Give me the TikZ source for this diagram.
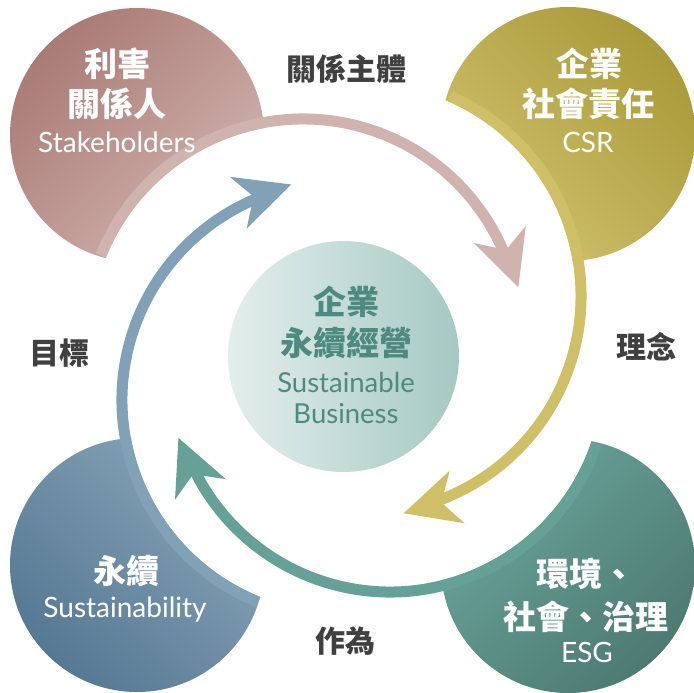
\documentclass[tikz,border=0pt]{standalone}
\usepackage{fontspec}
\setmainfont{Noto Sans CJK TC}
\newfontfamily\latinface{Lato}
\usepackage{tikz}
\definecolor{pinkdark}{HTML}{A97B75}
\definecolor{pinklight}{HTML}{D3B4B0}
\definecolor{pinkarc}{HTML}{D0B2AF}
\definecolor{golddark}{HTML}{AA9A3A}
\definecolor{goldlight}{HTML}{D1C36E}
\definecolor{goldarc}{HTML}{CFC068}
\definecolor{bluedark}{HTML}{557893}
\definecolor{bluelight}{HTML}{89A5B8}
\definecolor{bluearc}{HTML}{81A1B6}
\definecolor{greendark}{HTML}{4D7A72}
\definecolor{greenlight}{HTML}{6AA59B}
\definecolor{greenarc}{HTML}{66A197}
\definecolor{corelight}{HTML}{E4EEEC}
\definecolor{coredark}{HTML}{A5C9C3}
\definecolor{coretext}{HTML}{4E8A7F}
\definecolor{labeltext}{HTML}{404040}

\begin{document}
\begin{tikzpicture}[x=1pt,y=-1pt]
\tikzstyle{every node}+=[inner sep=0pt]
\tikzstyle{zhwhite}=[text=white,font=\fontsize{33}{36}\selectfont\bfseries]
\tikzstyle{enwhite}=[text=white,font=\latinface\fontsize{28}{34}\selectfont,anchor=base]
\tikzstyle{zhcore}=[text=coretext,font=\fontsize{33}{36}\selectfont\bfseries]
\tikzstyle{encore}=[text=coretext,font=\latinface\fontsize{27.5}{34}\selectfont,anchor=base]
\tikzstyle{relation}=[text=labeltext,font=\fontsize{30}{34}\selectfont\bfseries]
\tikzstyle{ringpen}=[line width=11pt]
\fill [white] (0,0) rectangle (694,693);
\useasboundingbox (0,0) rectangle (694,693);
\begin{scope}[even odd rule]
\clip (-10,-10) rectangle (704,703) (303,337) circle (212.5);
\shade [top color=pinkdark,bottom color=pinklight,shading angle=45] (137,135) circle (127);
\end{scope}
\begin{scope}[even odd rule]
\clip (-10,-10) rectangle (704,703) (363,296) circle (212.5);
\shade [top color=golddark,bottom color=goldlight,shading angle=-45] (568,134) circle (127);
\end{scope}
\begin{scope}[even odd rule]
\clip (-10,-10) rectangle (704,703) (390,374) circle (212.5);
\shade [top color=greenlight,bottom color=greendark,shading angle=45] (568,566) circle (127);
\end{scope}
\begin{scope}[even odd rule]
\clip (-10,-10) rectangle (704,703) (340,400) circle (212.5);
\shade [top color=bluelight,bottom color=bluedark,shading angle=-45] (137,565) circle (127);
\end{scope}
\shade [top color=corelight,bottom color=coredark,shading angle=90] (343.5,356.5) circle (115.5);
\begin{scope}[shift={(303,337)}]
\draw [ringpen,pinkarc] (-158:218) arc [start angle=-158,end angle=-19,radius=218];
\fill [pinkarc] (-13:221) -- (-26.5:249) -- (-23.2:221) -- (-28.8:195) -- cycle;
\end{scope}
\begin{scope}[shift={(363,296)}]
\draw [ringpen,goldarc] (-66.5:218) arc [start angle=-66.5,end angle=73.4,radius=218];
\fill [goldarc] (79.4:221) -- (65.9:249) -- (69.2:221) -- (63.6:195) -- cycle;
\end{scope}
\begin{scope}[shift={(390,374)}]
\draw [ringpen,greenarc] (18.5:218) arc [start angle=18.5,end angle=157.2,radius=218];
\fill [greenarc] (163.2:221) -- (149.7:249) -- (153:221) -- (147.4:195) -- cycle;
\end{scope}
\begin{scope}[shift={(340,400)}]
\draw [ringpen,bluearc] (-248:218) arc [start angle=-248,end angle=-108.8,radius=218];
\fill [bluearc] (-102.8:221) -- (-116.3:249) -- (-113:221) -- (-118.6:195) -- cycle;
\end{scope}
\node [zhwhite] (stakezh1) at (117,64) {利害};
\node [zhwhite] (stakezh2) at (117,104) {關係人};
\node [enwhite] (stakeen) at (117,152) {Stakeholders};
\node [zhwhite] (csrzh1) at (589,64) {企業};
\node [zhwhite] (csrzh2) at (588,104) {社會責任};
\node [enwhite] (csren) at (588,152) {CSR};
\node [zhwhite] (esgzh1) at (586,574) {環境、};
\node [zhwhite] (esgzh2) at (586,617) {社會、治理};
\node [enwhite] (esgen) at (587,662) {ESG};
\node [zhwhite] (susZh) at (126,571) {永續};
\node [enwhite] (susEn) at (125,617) {Sustainability};
\node [zhcore] (corezh1) at (346,302) {企業};
\node [zhcore] (corezh2) at (346,343) {永續經營};
\node [encore] (coreen1) at (346,392) {Sustainable};
\node [encore] (coreen2) at (346,423) {Business};
\node [relation] (reltop) at (346,68.5) {關係主體};
\node [relation] (relright) at (646,347) {理念};
\node [relation] (relleft) at (59,353) {目標};
\node [relation] (relbottom) at (345,641) {作為};
\end{tikzpicture}
\end{document}
